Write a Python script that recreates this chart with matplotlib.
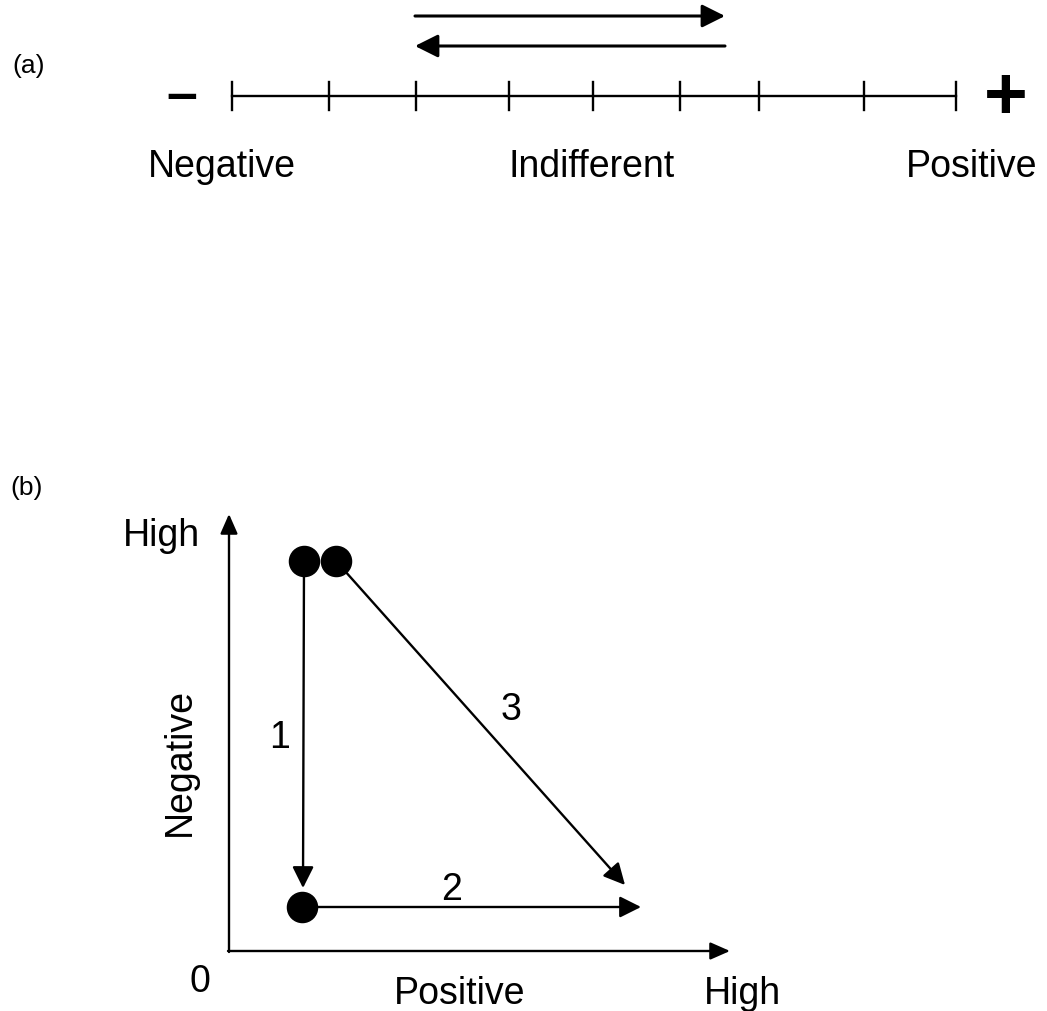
import matplotlib.pyplot as plt

plt.rcParams['font.family'] = ['Liberation Sans', 'DejaVu Sans']

# panel (a): scale ticks and labels (pixel positions)
scale_ticks = [232, 329, 416, 509, 593, 680, 759, 864, 956]
scale_labels = ["Negative", "Indifferent", "Positive"]
scale_label_x = [222, 592, 972]
shift_arrows = [(415, 725, 17), (725, 415, 47)]  # (start x, end x, y)

# panel (b): state points and moves
points_x = [304, 336, 302]
points_y = [562, 562, 908]
moves = [  # (x0, y0, x1, y1, label, label_x, label_y)
    (304, 562, 303, 889, "1", 280, 738),
    (302, 908, 641, 908, "2", 452, 890),
    (336, 562, 625, 886, "3", 511, 710),
]

fig = plt.figure(figsize=(10.47, 10.12), dpi=100)
ax = fig.add_axes([0, 0, 1, 1])
ax.set_xlim(0, 1047)
ax.set_ylim(1012, 0)
ax.axis("off")

lw = 1.7
line_y = 97
fs = 27

# ---- (a)
ax.text(12, 66, "(a)", fontsize=19, ha="left", va="center")
ax.plot([scale_ticks[0], scale_ticks[-1]], [line_y, line_y], color="black", lw=lw)
for t in scale_ticks:
    ax.plot([t, t], [line_y - 14, line_y + 14], color="black", lw=lw)
ax.text(182, line_y, "\u2013", fontsize=40, fontweight="bold", ha="center", va="center")
ax.text(1006, line_y + 2, "+", fontsize=54, fontweight="bold", ha="center", va="center")
for lab, x in zip(scale_labels, scale_label_x):
    ax.text(x, 167, lab, fontsize=fs, ha="center", va="center")

for x0, x1, y in shift_arrows:
    ax.annotate("", xy=(x1, y), xytext=(x0, y),
                arrowprops=dict(arrowstyle="-|>,head_length=0.5,head_width=0.25",
                                color="black", lw=2.2,
                                mutation_scale=28, shrinkA=0, shrinkB=0))

# ---- (b)
ax.text(10, 488, "(b)", fontsize=19, ha="left", va="center")
ax.annotate("", xy=(229, 515), xytext=(229, 953),
            arrowprops=dict(arrowstyle="-|>,head_length=0.5,head_width=0.22",
                            color="black", lw=lw,
                            mutation_scale=24, shrinkA=0, shrinkB=0))
ax.annotate("", xy=(730, 952), xytext=(228, 952),
            arrowprops=dict(arrowstyle="-|>,head_length=0.5,head_width=0.22",
                            color="black", lw=lw,
                            mutation_scale=24, shrinkA=0, shrinkB=0))

ax.text(161, 536, "High", fontsize=fs, ha="center", va="center")
ax.text(180, 762, "Negative", fontsize=fs, ha="center", va="center", rotation=90)
ax.text(200, 982, "0", fontsize=fs, ha="center", va="center")
ax.text(460, 994, "Positive", fontsize=fs, ha="center", va="center")
ax.text(742, 994, "High", fontsize=fs, ha="center", va="center")

for x0, y0, x1, y1, lab, lx, ly in moves:
    ax.annotate("", xy=(x1, y1), xytext=(x0, y0),
                arrowprops=dict(arrowstyle="-|>,head_length=0.5,head_width=0.25",
                                color="black", lw=lw,
                                mutation_scale=26, shrinkA=0, shrinkB=0))
    ax.text(lx, ly, lab, fontsize=fs, ha="center", va="center")

ax.scatter(points_x, points_y, s=470, color="black", zorder=5)

fig.savefig("out.png", dpi=100)
